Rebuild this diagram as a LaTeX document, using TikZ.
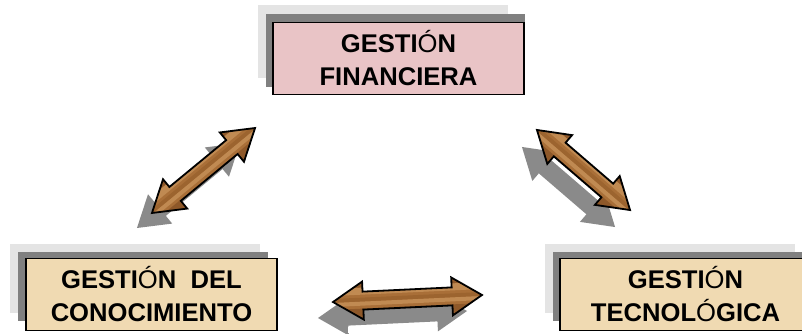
\documentclass[tikz,border=0pt]{standalone}
\usepackage{fontspec}
\setmainfont{Liberation Sans}
\definecolor{pinkfill}{HTML}{E9C4C6}
\definecolor{parchment}{HTML}{F0DAB2}
\definecolor{lightshadow}{HTML}{E4E4E4}
\definecolor{darkshadow}{HTML}{808080}
\definecolor{arrowshade}{HTML}{8A8A8A}
\definecolor{woodA}{HTML}{A96F38}
\definecolor{woodB}{HTML}{8E5829}
\definecolor{woodC}{HTML}{C08A52}
\definecolor{woodD}{HTML}{9C642F}
\tikzset{
  titlebox/.style={draw=black, line width=1.8pt, minimum width=251pt,
    minimum height=72pt, align=center, inner sep=0pt,
    font=\bfseries\fontsize{25.6}{33}\selectfont},
  arrowline/.style={draw=black, line width=1.8pt, line join=miter},
}
% block double arrow along the local x axis, tips at -#1 and #1
\newcommand\arrowoutline[1]{(-#1,0) -- (-#1+30,19) -- (-#1+30,9) -- (#1-30,9)
  -- (#1-30,19) -- (#1,0) -- (#1-30,-19) -- (#1-30,-9) -- (-#1+30,-9)
  -- (-#1+30,-19) -- cycle}
% #1,#2 centre, #3 angle, #4 half length, #5,#6 shadow offset
\newcommand\arrowdrop[6]{%
  \begin{scope}[shift={(#1+#5,#2+#6)},rotate=#3]
    \fill[arrowshade] \arrowoutline{#4};
  \end{scope}}
\newcommand\woodarrow[4]{%
  \begin{scope}[shift={(#1,#2)},rotate=#3]
    \begin{scope}
      \clip \arrowoutline{#4};
      \fill[woodA] (-#4,-20) rectangle (#4,20);
      \fill[woodB] (-#4,20) rectangle (#4,13);
      \fill[woodC] (-#4,13) rectangle (#4,6);
      \fill[woodD] (-#4,3) rectangle (#4,-1);
      \fill[woodC] (-#4,-1) rectangle (#4,-5);
      \fill[woodB] (-#4,-8) rectangle (#4,-20);
    \end{scope}
    \draw[arrowline] \arrowoutline{#4};
  \end{scope}}
\newcommand\Oacc{{\mdseries Ó}}
\begin{document}
\begin{tikzpicture}[x=1pt,y=1pt]
  \clip (0,0) rectangle (802,333);
  \fill[white] (0,0) rectangle (802,333);

  % stacked shadows behind the three boxes
  \fill[lightshadow] (258,328) rectangle (508,255);
  \fill[darkshadow] (266,319) rectangle (525,246);
  \fill[lightshadow] (10,89) rectangle (260,20);
  \fill[darkshadow] (18,81) rectangle (268,12);
  \fill[lightshadow] (545,89) rectangle (795,20);
  \fill[darkshadow] (553,81) rectangle (811,12);

  \node[titlebox, fill=pinkfill] (fin) at (398.5,274.5)
    {GESTI\Oacc N\\FINANCIERA};
  \node[titlebox, fill=parchment] (con) at (151.5,38.5)
    {GESTI\Oacc N\ \ DEL\\CONOCIMIENTO};
  \node[titlebox, fill=parchment] (tec) at (685.5,38.5)
    {GESTI\Oacc N\\TECNOL\Oacc GICA};

  % double arrows linking the three areas
  \arrowdrop{203.5}{162.5}{39.5}{66.8}{-15}{-15}
  \woodarrow{203.5}{162.5}{39.5}{66.8}
  \arrowdrop{583.5}{163}{-40.7}{61.4}{-15}{-17}
  \woodarrow{583.5}{163}{-40.7}{61.4}
  \arrowdrop{407.5}{34.5}{2.7}{74.6}{-15}{-16}
  \fill[white] (348,0) rectangle (437,6.3);
  \woodarrow{407.5}{34.5}{2.7}{74.6}
\end{tikzpicture}
\end{document}
